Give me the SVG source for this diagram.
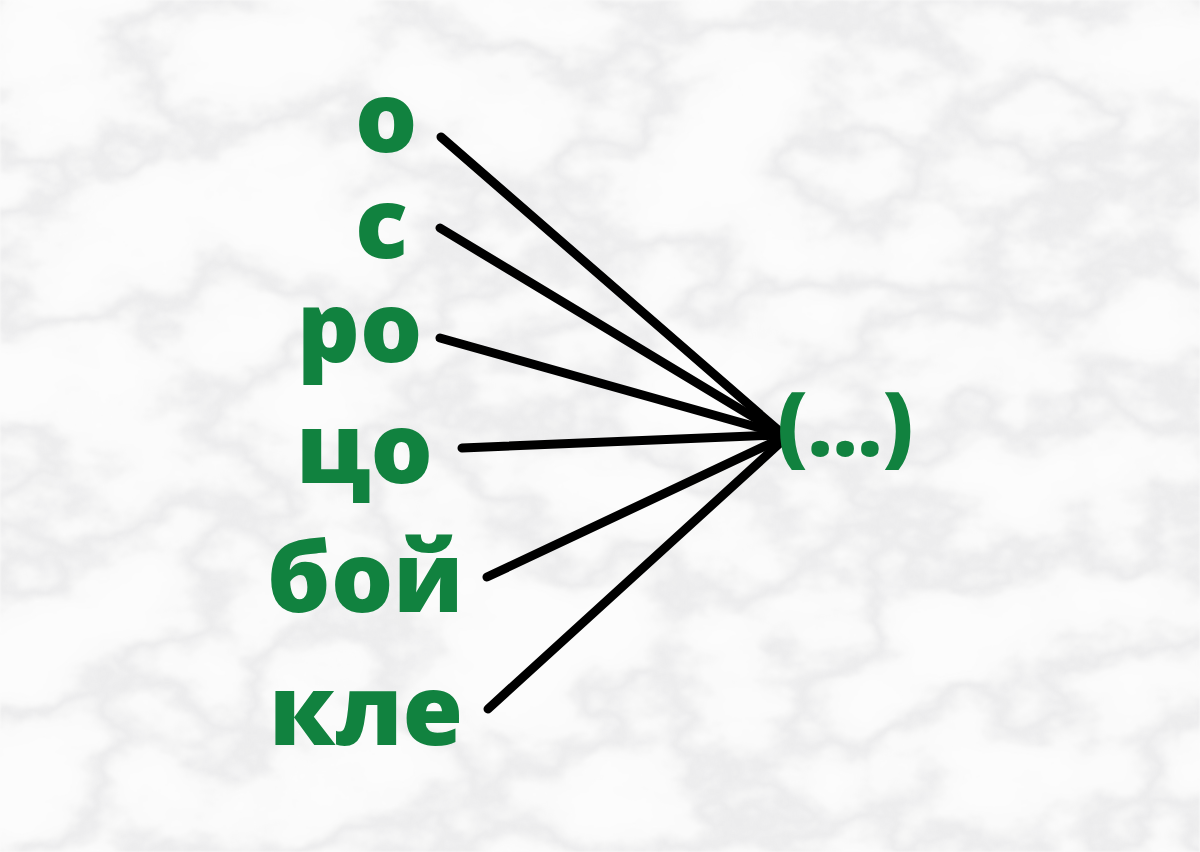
<svg xmlns="http://www.w3.org/2000/svg" width="1200" height="852" viewBox="0 0 1200 852">
  <defs>
    <filter id="marble" x="0" y="0" width="100%" height="100%">
      <feTurbulence type="fractalNoise" baseFrequency="0.005 0.007" numOctaves="6" seed="11" result="n"/>
      <feColorMatrix type="matrix" in="n" values="0 0 0 0 0.45  0 0 0 0 0.45  0 0 0 0 0.47  1 0 0 0 0" result="v"/>
      <feComponentTransfer in="v"><feFuncA type="table" tableValues="0 0 0 0 0.03 0.22 0.03 0 0 0 0"/></feComponentTransfer>
      <feGaussianBlur stdDeviation="1"/>
    </filter>
    <style>
      .t { font-family: "Open Sans", "DejaVu Sans", sans-serif; font-weight: 800; fill: #11823f; font-size: 98px; }
      .c { stroke: #000; stroke-width: 9; stroke-linecap: round; fill: none; }
    </style>
  </defs>
  <rect width="1200" height="852" fill="#fcfcfc"/>
  <rect width="1200" height="852" fill="#fff" filter="url(#marble)"/>
  <g id="connectors">
    <line class="c" x1="441" y1="137" x2="778" y2="430"/>
    <line class="c" x1="440" y1="228" x2="778" y2="432"/>
    <line class="c" x1="440" y1="338" x2="778" y2="433"/>
    <line class="c" x1="462" y1="448" x2="778" y2="435"/>
    <line class="c" x1="487" y1="577" x2="778" y2="440"/>
    <line class="c" x1="488" y1="709" x2="780" y2="443"/>
  </g>
  <g id="n1"><text class="t" x="355" y="152">о</text></g>
  <g id="n2"><text class="t" x="355" y="258">с</text></g>
  <g id="n3"><text class="t" x="297" y="362">ро</text></g>
  <g id="n4"><text class="t" x="296" y="483">цо</text></g>
  <g id="n5"><text class="t" x="267" y="612">бой</text></g>
  <g id="n6"><text class="t" x="269" y="745">кле</text></g>
  <g id="target"><text class="t" x="777" y="456" style="font-size:86px">(...)</text></g>
</svg>
